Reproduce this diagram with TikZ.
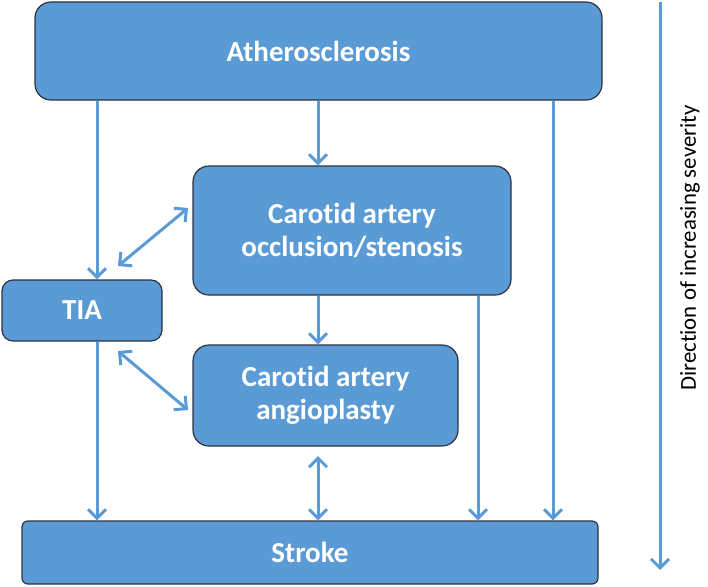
\documentclass[tikz,border=0pt]{standalone}
\usepackage{fontspec}
\setmainfont{Carlito}[Ligatures={NoCommon}]
\usetikzlibrary{arrows.meta,calc}
\definecolor{boxblue}{HTML}{5B9BD5}
\definecolor{boxline}{HTML}{2B3440}
\begin{document}
\begin{tikzpicture}[x=1pt,y=-1pt,
  box/.style={draw=boxline,line width=1.2pt,fill=boxblue,rounded corners=16pt,
    text=white,font=\fontsize{29}{33}\selectfont\bfseries,align=center,inner sep=0pt},
  conn/.style={draw=boxblue,line width=3pt,-{Straight Barb[length=9pt,width=18pt]}},
  dconn/.style={draw=boxblue,line width=3pt,{Straight Barb[length=9pt,width=18pt]}-{Straight Barb[length=9pt,width=18pt]}}]
\useasboundingbox (0,0) rectangle (708,586);
\node[box,minimum width=567pt,minimum height=98pt] (ath) at (318.5,51) {Atherosclerosis};
\node[box,minimum width=318pt,minimum height=129pt] (car) at (352,230.5) {Carotid artery\\occlusion/stenosis};
\node[box,rounded corners=11pt,minimum width=160pt,minimum height=61pt] (tia) at (82,310.5) {TIA};
\node[box,minimum width=265pt,minimum height=101pt] (ang) at (325.5,395.5) {Carotid artery\\angioplasty};
\node[box,rounded corners=6pt,minimum width=576pt,minimum height=63pt] (str) at (310,552.5) {Stroke};
\coordinate (xa) at (97,0);
\coordinate (xb) at (318,0);
\coordinate (xc) at (478,0);
\coordinate (xd) at (553,0);
\coordinate (d1a) at (118,266);
\coordinate (d1b) at (188,208);
\coordinate (d2a) at (118,351);
\coordinate (d2b) at (188,410);
\coordinate (d3a) at (318,456);
\coordinate (sevtop) at (660,2);
\coordinate (sevbot) at (660,570);
\draw[conn] (ath.south -| xa) -- (tia.north -| xa);
\draw[conn] (ath.south -| xb) -- (car.north -| xb);
\draw[conn] (ath.south -| xd) -- (str.north -| xd);
\draw[conn] (car.south -| xb) -- (ang.north -| xb);
\draw[conn] (car.south -| xc) -- (str.north -| xc);
\draw[conn] (tia.south -| xa) -- (str.north -| xa);
\draw[dconn] (d1a) -- (d1b);
\draw[dconn] (d2a) -- (d2b);
\draw[dconn] (d3a) -- (str.north -| d3a);
\draw[conn] (sevtop) -- (sevbot);
\node[rotate=90,font=\fontsize{22.8}{26}\selectfont,inner sep=0pt] (sevtext) at (690,248) {Direction of increasing severity};
\end{tikzpicture}
\end{document}
